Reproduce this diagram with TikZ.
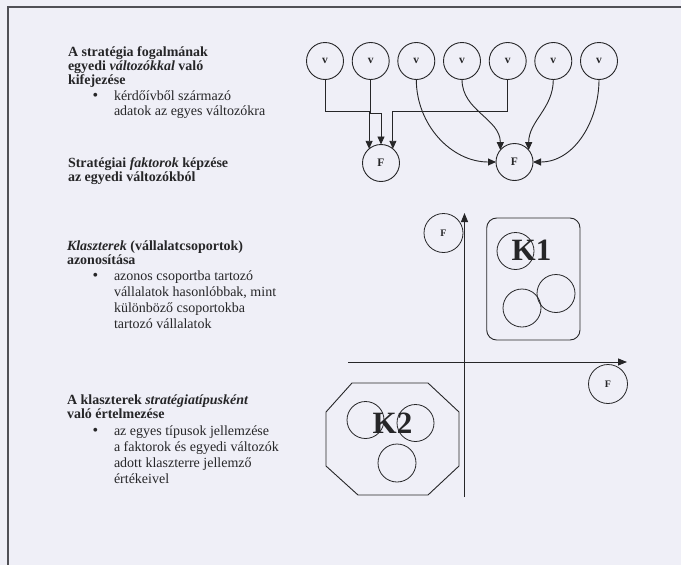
\documentclass[tikz,border=0pt]{standalone}
\usepackage{fontspec}
\setmainfont{Liberation Serif}
\usetikzlibrary{arrows.meta}
\definecolor{paper}{RGB}{239,239,247}
\definecolor{ink}{RGB}{38,38,40}
\definecolor{frameline}{RGB}{80,80,86}

\begin{document}
\begin{tikzpicture}[x=1pt,y=1pt,
  every node/.style={inner sep=0pt, outer sep=0pt},
  var/.style={circle, draw=ink, line width=0.9pt, minimum size=37pt,
    font=\fontsize{11.5}{11.5}\selectfont\bfseries, text=ink},
  smallfac/.style={circle, draw=ink, line width=0.8pt, minimum size=39pt,
    font=\fontsize{10}{10}\selectfont\bfseries, text=ink},
  blob/.style={circle, draw=ink, line width=0.8pt, minimum size=37pt},
  conn/.style={draw=ink, line width=0.9pt, -{Triangle[length=8pt,width=7pt]}},
  axis/.style={draw=ink, line width=0.8pt, -{Triangle[length=9pt,width=7pt]}},
  heading/.style={anchor=base west, align=left,
    font=\fontsize{14}{14}\selectfont\bfseries, text=ink},
  bodytext/.style={anchor=base west, align=left,
    font=\fontsize{14}{16}\selectfont, text=ink},
  dot/.style={anchor=base, font=\fontsize{16}{16}\selectfont, text=ink},
  clusterlabel/.style={font=\fontsize{31}{31}\selectfont\bfseries, text=ink},
]
% page and frame
\fill[paper] (0,0) rectangle (681,-565);
\useasboundingbox (0,0) rectangle (681,-565);
\draw[frameline, line width=1.1pt] (8,-565) -- (8,-7) -- (681,-7);

% ---------- left column: explanatory text ----------
% (multi-line nodes are placed by the baseline of their last line)
\node[heading] (h1) at (68,-84.7) {A stratégia fogalmának\\egyedi \textit{változókkal} való\\kifejezése};
\node[dot] (b1) at (95.5,-100) {•};
\node[bodytext, font=\fontsize{14}{15}\selectfont] (t1) at (114,-115) {kérdőívből származó\\adatok az egyes változókra};

\node[heading] (h2) at (68,-181.5) {Stratégiai \textit{faktorok} képzése\\az egyedi változókból};

\node[heading] (h3) at (67,-264) {\textit{Klaszterek} (vállalatcsoportok)\\azonosítása};
\node[dot] (b3) at (95.5,-280) {•};
\node[bodytext] (t3) at (114,-328) {azonos csoportba tartozó\\vállalatok hasonlóbbak, mint\\különböző csoportokba\\tartozó vállalatok};

\node[heading] (h4) at (67,-418) {A klaszterek \textit{stratégiatípusként}\\való értelmezése};
\node[dot] (b4) at (95.5,-435) {•};
\node[bodytext] (t4) at (114,-483) {az egyes típusok jellemzése\\a faktorok és egyedi változók\\adott klaszterre jellemző\\értékeivel};

% ---------- variables and factors ----------
\foreach \i/\x in {1/325,2/370.7,3/416.3,4/462,5/507.7,6/553.3,7/599}
  \node[var] (v\i) at (\x,-61) {v};
\node[var] (F1) at (381,-163) {F};
\node[var] (F2) at (514.5,-162) {F};

\coordinate (busA) at (0,-111);
\coordinate (busB) at (0,-113);

\draw[conn] (v1.south) |- (F1.130 |- busA) -- (F1.130);
\draw[conn] (v2.south) |- (F1.north |- busB) -- (F1.north);
\draw[conn] (v5.south) |- (F1.50 |- busA) -- (F1.50);

\draw[conn] (v3.south) to[out=-90,in=180] (F2.west);
\draw[conn] (v4.south) to[out=-90,in=90] (F2.140);
\draw[conn] (v6.south) to[out=-90,in=90] (F2.40);
\draw[conn] (v7.south) to[out=-90,in=0] (F2.east);

% ---------- factor space with clusters ----------
\coordinate (yfoot) at (464.5,-497);
\coordinate (ytip) at (464.5,-213);
\coordinate (xfoot) at (348,-362);
\coordinate (xtip) at (627,-362);
\draw[axis] (yfoot) -- (ytip);
\draw[axis] (xfoot) -- (xtip);

\node[smallfac] (Fy) at (443.5,-233) {F};
\node[smallfac] (Fx) at (608,-384) {F};

% cluster K1
\draw[ink, line width=0.9pt, rounded corners=10pt] (486.7,-218) rectangle (580,-340);
\node[blob] (k1a) at (515.5,-251) {};
\node[blob, minimum size=38pt] (k1b) at (556,-293.5) {};
\node[blob, minimum size=38pt] (k1c) at (522,-308) {};
\node[clusterlabel, anchor=base] (K1) at (531.5,-260) {K1};

% cluster K2
\draw[ink, line width=0.9pt] (352,-383) -- (428,-383) -- (459,-412) -- (459,-466)
  -- (428,-495) -- (358,-495) -- (326,-466) -- (326,-412) -- cycle;
\node[blob] (k2a) at (365.5,-420) {};
\node[blob] (k2b) at (415.5,-423) {};
\node[blob, minimum size=38pt] (k2c) at (397,-463) {};
\node[clusterlabel, anchor=base] (K2) at (392.5,-433) {K2};
\end{tikzpicture}
\end{document}
